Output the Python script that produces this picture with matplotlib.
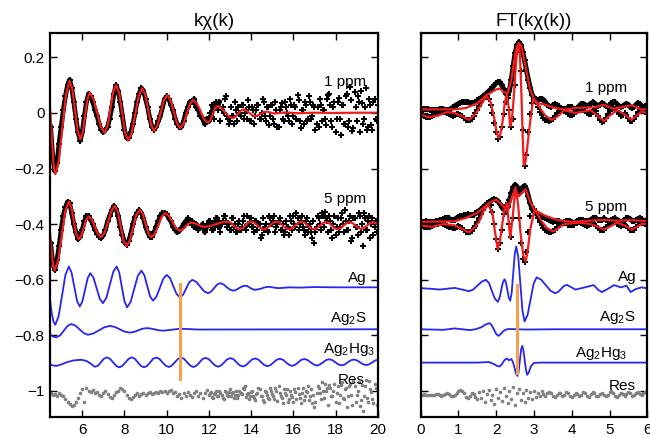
import numpy as np
import matplotlib
matplotlib.use("Agg")
import matplotlib.pyplot as plt

plt.rcParams["font.family"] = ["Liberation Sans", "DejaVu Sans"]
plt.rcParams["mathtext.default"] = "regular"
plt.rcParams["axes.unicode_minus"] = True

# ===== k-space (left panel) =====
K = np.round(np.arange(4.5, 20.001, 0.1), 1)          # data grid, 156 points
K_HI = np.round(np.arange(12.05, 19.96, 0.1), 2)      # extra samples in the noisy tail, 80 points
K_DENSE_MAX = 12.5                                   # below this the points overlap into a band

DATA_1PPM = [
    -0.05, -0.16, -0.21, -0.18, -0.11, -0.05, 0.01, 0.06, 0.10, 0.12,
    0.09, 0.04, -0.02, -0.07, -0.10, -0.07, -0.01, 0.04, 0.07, 0.06,
    0.04, 0.01, -0.01, -0.04, -0.06, -0.07, -0.06, -0.05, -0.02, 0.02,
    0.07, 0.10, 0.08, 0.04, -0.01, -0.06, -0.09, -0.09, -0.07, -0.04,
    0.00, 0.04, 0.07, 0.09, 0.08, 0.05, 0.02, -0.02, -0.05, -0.06,
    -0.05, -0.03, -0.01, 0.02, 0.05, 0.06, 0.05, 0.03, 0.01, -0.02,
    -0.04, -0.05, -0.05, -0.03, 0.00, 0.02, 0.04, 0.04, 0.05, 0.02,
    0.01, -0.01, -0.02, -0.04, -0.02, -0.03, -0.01, 0.02, 0.03, 0.02,
    0.04, 0.01, 0.00, 0.06, -0.02, -0.03, -0.01, -0.04, 0.01, 0.02,
    -0.01, 0.03, 0.00, -0.02, 0.02, -0.03, 0.01, -0.01, 0.03, -0.02,
    0.00, 0.04, -0.03, 0.02, -0.01, 0.03, -0.04, 0.01, -0.05, 0.02,
    -0.02, 0.04, 0.00, -0.03, 0.03, -0.01, 0.02, 0.065, -0.03, 0.01,
    -0.04, 0.03, -0.02, 0.04, -0.01, 0.02, -0.04, -0.05, 0.03, 0.01,
    -0.02, 0.05, 0.07, -0.03, 0.02, -0.07, 0.04, -0.02, 0.03, -0.04,
    0.06, -0.05, 0.095, -0.065, 0.075, -0.03, 0.04, 0.08, -0.04, 0.02,
    -0.06, 0.05, -0.045, 0.04, -0.02, 0.03,
]
DATA_1PPM_HI = [
    0.00, 0.03, -0.02, 0.04, 0.01, -0.03, 0.02, 0.05, -0.01, -0.04,
    0.02, -0.01, 0.04, -0.03, 0.00, 0.03, -0.02, 0.01, 0.045, -0.03,
    0.02, -0.04, 0.01, 0.03, -0.02, 0.05, -0.01, 0.02, -0.045, 0.03,
    -0.02, 0.04, -0.05, 0.01, 0.035, -0.03, 0.02, -0.01, 0.05, -0.04,
    0.03, -0.02, 0.045, -0.055, 0.01, 0.04, -0.03, 0.06, -0.02, 0.03,
    -0.06, 0.02, 0.05, -0.03, 0.01, -0.045, 0.065, 0.03, -0.05, 0.04,
    -0.02, 0.055, -0.08, 0.03, -0.04, 0.07, -0.03, 0.045, -0.055, 0.02,
    0.06, -0.07, 0.035, -0.02, 0.09, -0.05, 0.03, -0.06, 0.05, -0.03,
]
DATA_5PPM = [
    -0.47, -0.54, -0.565, -0.53, -0.48, -0.42, -0.37, -0.34, -0.32, -0.325,
    -0.36, -0.40, -0.43, -0.455, -0.445, -0.42, -0.39, -0.37, -0.37, -0.385,
    -0.40, -0.42, -0.435, -0.445, -0.45, -0.44, -0.42, -0.39, -0.37, -0.35,
    -0.335, -0.345, -0.37, -0.41, -0.44, -0.465, -0.475, -0.46, -0.435, -0.40,
    -0.375, -0.36, -0.35, -0.36, -0.38, -0.41, -0.43, -0.445, -0.445, -0.43,
    -0.41, -0.39, -0.37, -0.36, -0.36, -0.365, -0.38, -0.39, -0.41, -0.42,
    -0.43, -0.425, -0.415, -0.40, -0.39, -0.38, -0.395, -0.39, -0.41, -0.40,
    -0.42, -0.41, -0.40, -0.43, -0.41, -0.39, -0.40, -0.42, -0.39, -0.38,
    -0.41, -0.40, -0.37, -0.39, -0.40, -0.42, -0.38, -0.41, -0.43, -0.40,
    -0.42, -0.39, -0.41, -0.37, -0.40, -0.38, -0.41, -0.39, -0.42, -0.40,
    -0.44, -0.42, -0.40, -0.43, -0.38, -0.40, -0.37, -0.41, -0.39, -0.42,
    -0.40, -0.43, -0.41, -0.44, -0.39, -0.37, -0.41, -0.38, -0.40, -0.37,
    -0.42, -0.39, -0.43, -0.40, -0.45, -0.47, -0.41, -0.38, -0.42, -0.37,
    -0.355, -0.39, -0.37, -0.42, -0.40, -0.44, -0.38, -0.41, -0.36, -0.43,
    -0.39, -0.42, -0.37, -0.45, -0.38, -0.41, -0.36, -0.43, -0.48, -0.38,
    -0.42, -0.37, -0.40, -0.44, -0.39, -0.41,
]
DATA_5PPM_HI = [
    -0.39, -0.42, -0.40, -0.38, -0.41, -0.43, -0.39, -0.37, -0.41, -0.40,
    -0.42, -0.38, -0.40, -0.43, -0.39, -0.41, -0.37, -0.42, -0.40, -0.38,
    -0.41, -0.43, -0.39, -0.40, -0.45, -0.38, -0.41, -0.42, -0.37, -0.40,
    -0.39, -0.43, -0.40, -0.38, -0.42, -0.44, -0.39, -0.41, -0.37, -0.42,
    -0.40, -0.36, -0.42, -0.39, -0.41, -0.44, -0.38, -0.41, -0.43, -0.39,
    -0.43, -0.37, -0.40, -0.36, -0.41, -0.38, -0.43, -0.39, -0.45, -0.37,
    -0.41, -0.43, -0.38, -0.40, -0.35, -0.42, -0.39, -0.46, -0.38, -0.41,
    -0.44, -0.37, -0.40, -0.36, -0.42, -0.39, -0.45, -0.38, -0.41, -0.43,
]
RES_K = [
    -1.010, -1.015, -1.012, -1.018, -1.010, -1.015, -1.020, -1.030, -1.040, -1.048,
    -1.055, -1.052, -1.040, -1.025, -1.010, -0.995, -1.040, -0.990, -1.000, -1.005,
    -0.998, -1.010, -1.005, -1.015, -1.020, -1.010, -1.000, -1.012, -1.022, -1.025,
    -1.015, -1.005, -1.000, -0.992, -0.995, -1.002, -1.015, -1.025, -1.030, -1.022,
    -1.015, -1.010, -1.018, -1.012, -1.008, -1.015, -1.010, -1.005, -1.012, -1.008,
    -1.004, -1.010, -1.002, -1.006, -1.000, -1.008, -1.003, -0.998, -1.010, -1.005,
    -1.020, -1.012, -1.025, -1.008, -1.018, -1.005, -1.015, -1.022, -1.010, -1.000,
    -1.018, -1.008, -1.025, -1.010, -0.998, -1.015, -1.005, -1.028, -1.010, -1.020,
    -1.000, -1.015, -1.030, -1.005, -1.018, -0.995, -1.010, -1.025, -1.000, -1.015,
    -1.008, -0.990, -0.985, -1.012, -1.030, -1.005, -1.020, -1.035, -1.010, -0.995,
    -1.018, -1.040, -1.005, -1.025, -0.990, -1.012, -1.030, -1.000, -0.985, -1.020,
    -1.045, -1.010, -0.995, -1.030, -1.015, -1.040, -1.005, -0.990, -1.025, -1.010,
    -1.035, -1.000, -0.985, -1.020, -1.045, -1.060, -1.010, -0.990, -1.030, -1.000,
    -0.975, -0.990, -0.980, -1.020, -1.000, -1.040, -0.985, -1.015, -0.970, -1.030,
    -0.990, -1.020, -0.975, -1.050, -0.985, -1.015, -0.970, -1.035, -1.075, -0.985,
    -1.025, -0.965, -1.005, -1.045, -0.990, -1.015,
]
RES_K_HI = [
    -1.008, -1.022, -1.012, -1.002, -1.018, -1.010, -1.025, -1.000, -1.015, -1.006,
    -1.020, -1.004, -1.015, -1.028, -1.000, -1.012, -0.995, -1.022, -1.008, -1.018,
    -1.000, -1.028, -1.012, -0.992, -1.020, -1.035, -1.002, -1.015, -1.030, -1.000,
    -1.020, -0.990, -1.038, -1.010, -1.025, -0.995, -1.015, -1.040, -1.002, -1.022,
    -0.995, -1.030, -1.012, -1.045, -0.990, -1.020, -1.005, -1.035, -0.995, -1.015,
    -1.040, -0.985, -1.010, -0.970, -1.025, -1.000, -1.050, -0.990, -1.020, -0.975,
    -1.010, -1.045, -0.980, -1.025, -0.995, -1.060, -0.985, -1.015, -0.965, -1.040,
    -1.000, -1.055, -0.980, -1.020, -0.960, -1.040, -0.995, -1.030, -0.975, -1.050,
]

# fits and components
FIT1_K = [4.47, 4.55, 4.63, 4.67, 4.72, 4.78, 4.89, 5.06, 5.23, 5.40, 5.53, 5.655, 5.78,
          5.91, 6.02, 6.13, 6.24, 6.35, 6.53, 6.705, 6.88, 7.06, 7.20, 7.335, 7.47, 7.61,
          7.75, 7.89, 8.03, 8.17, 8.34, 8.505, 8.67, 8.84, 8.98, 9.12, 9.26, 9.40, 9.56,
          9.715, 9.87, 10.03, 10.18, 10.335, 10.49, 10.64, 10.79, 10.945, 11.10, 11.25,
          11.43, 11.605, 11.78, 11.96, 12.07, 12.18, 12.29, 12.40, 12.58, 12.765, 12.95,
          13.13, 13.255, 13.38, 13.505, 13.63, 13.77, 13.905, 14.04, 14.18, 14.32, 14.46,
          14.60, 14.74, 15.10, 15.60, 16.20, 17.00, 18.00, 19.00, 20.00]
FIT1_Y = [0.02, -0.08, -0.175, -0.205, -0.220, -0.207, -0.171, -0.052, 0.067, 0.116, 0.085,
          0.0105, -0.064, -0.095, -0.070, -0.011, 0.048, 0.073, 0.052, 0.001, -0.050,
          -0.071, -0.046, 0.015, 0.076, 0.101, 0.072, 0.0, -0.071, -0.100, -0.072, -0.006,
          0.061, 0.089, 0.067, 0.013, -0.042, -0.064, -0.045, 0.0, 0.046, 0.065, 0.047,
          0.005, -0.037, -0.055, -0.040, -0.004, 0.032, 0.047, 0.035, 0.006, -0.023,
          -0.035, -0.026, -0.005, 0.016, 0.025, 0.019, 0.003, -0.013, -0.019, -0.014,
          -0.003, 0.008, 0.013, 0.009, 0.001, -0.007, -0.011, -0.009, -0.003, 0.003,
          0.005, -0.002, 0.002, -0.001, 0.001, 0.0, 0.001, 0.001]

FIT5_K = [4.47, 4.55, 4.62, 4.69, 4.8575, 5.025, 5.19, 5.36, 5.48, 5.595, 5.71, 5.83, 5.95,
          6.065, 6.18, 6.30, 6.45, 6.60, 6.75, 6.90, 7.06, 7.22, 7.38, 7.54, 7.68, 7.815,
          7.95, 8.09, 8.25, 8.405, 8.56, 8.72, 8.86, 8.995, 9.13, 9.27, 9.435, 9.60, 9.765,
          9.93, 10.10, 10.275, 10.45, 10.62, 10.76, 10.895, 11.03, 11.17, 11.33, 11.485,
          11.64, 11.80, 12.08, 12.35, 12.62, 12.90, 13.04, 13.175, 13.31, 13.45, 13.59,
          13.725, 13.86, 14.00, 14.15, 14.30, 14.45, 14.60, 14.75, 14.895, 15.04, 15.19,
          15.34, 15.495, 15.65, 15.80, 15.945, 16.09, 16.235, 16.38, 16.53, 16.675, 16.82,
          16.97, 17.12, 17.265, 17.41, 17.56, 17.695, 17.83, 17.965, 18.10, 18.24, 18.385,
          18.53, 18.67, 18.80, 18.935, 19.07, 19.20, 19.345, 19.49, 19.635, 19.78, 19.89,
          20.00]
FIT5_Y = [-0.43, -0.50, -0.55, -0.567, -0.531, -0.443, -0.355, -0.319, -0.339, -0.387,
          -0.435, -0.455, -0.443, -0.414, -0.385, -0.373, -0.384, -0.411, -0.437, -0.448,
          -0.431, -0.392, -0.352, -0.335, -0.356, -0.407, -0.458, -0.479, -0.460, -0.414,
          -0.368, -0.349, -0.363, -0.399, -0.433, -0.448, -0.435, -0.405, -0.374, -0.361,
          -0.370, -0.393, -0.415, -0.424, -0.420, -0.410, -0.399, -0.395, -0.397, -0.4025,
          -0.408, -0.41, -0.407, -0.40, -0.394, -0.391, -0.395, -0.405, -0.415, -0.419,
          -0.415, -0.405, -0.395, -0.391, -0.395, -0.405, -0.415, -0.419, -0.415, -0.405,
          -0.395, -0.391, -0.395, -0.405, -0.415, -0.419, -0.415, -0.405, -0.395, -0.391,
          -0.395, -0.405, -0.415, -0.419, -0.415, -0.405, -0.396, -0.393, -0.396, -0.4055,
          -0.415, -0.418, -0.415, -0.4055, -0.396, -0.393, -0.396, -0.405, -0.414, -0.417,
          -0.414, -0.4055, -0.397, -0.394, -0.396, -0.40]

AG_K = [4.47, 4.55, 4.63, 4.72, 4.88, 5.04, 5.20, 5.36, 5.49, 5.62, 5.75, 5.88, 6.005,
        6.13, 6.255, 6.38, 6.53, 6.68, 6.83, 6.98, 7.14, 7.305, 7.47, 7.63, 7.75, 7.875,
        8.00, 8.12, 8.29, 8.46, 8.63, 8.80, 8.94, 9.075, 9.21, 9.35, 9.51, 9.675, 9.84,
        10.00, 10.16, 10.315, 10.47, 10.63, 10.775, 10.92, 11.065, 11.21, 11.40, 11.585,
        11.77, 11.96, 12.10, 12.245, 12.39, 12.53, 12.685, 12.84, 12.995, 13.15, 13.29,
        13.43, 13.57, 13.71, 13.83, 13.955, 14.08, 14.20, 14.35, 14.50, 14.65, 14.80,
        14.93, 15.05, 15.18, 15.30, 15.80, 16.30, 17.00, 18.00, 19.00, 20.00]
AG_Y = [-0.67, -0.72, -0.750, -0.763, -0.732, -0.658, -0.584, -0.553, -0.574, -0.625,
        -0.676, -0.697, -0.679, -0.637, -0.595, -0.577, -0.593, -0.631, -0.669, -0.685,
        -0.666, -0.619, -0.572, -0.553, -0.574, -0.627, -0.678, -0.700, -0.681, -0.634,
        -0.587, -0.568, -0.584, -0.622, -0.660, -0.676, -0.662, -0.630, -0.597, -0.583,
        -0.595, -0.624, -0.652, -0.664, -0.655, -0.633, -0.610, -0.601, -0.608, -0.625,
        -0.642, -0.649, -0.644, -0.631, -0.618, -0.613, -0.617, -0.627, -0.636, -0.640,
        -0.637, -0.631, -0.625, -0.622, -0.624, -0.630, -0.635, -0.637, -0.635, -0.632,
        -0.628, -0.626, -0.627, -0.6285, -0.630, -0.631, -0.628, -0.629, -0.627, -0.628,
        -0.628, -0.628]

AG2S_K = [4.47, 4.60, 4.77, 4.95, 5.125, 5.30, 5.48, 5.68, 5.875, 6.07, 6.27, 6.53, 6.785,
          7.04, 7.30, 7.54, 7.775, 8.01, 8.25, 8.45, 8.645, 8.84, 9.04, 9.24, 9.435, 9.63,
          9.83, 10.04, 10.255, 10.47, 10.68, 11.50, 20.00]
AG2S_Y = [-0.797, -0.805, -0.808, -0.801, -0.784, -0.767, -0.760, -0.766, -0.7795, -0.793,
          -0.799, -0.794, -0.783, -0.772, -0.767, -0.7705, -0.779, -0.7875, -0.791,
          -0.7887, -0.783, -0.7773, -0.775, -0.7763, -0.7795, -0.7827, -0.784, -0.7825,
          -0.7805, -0.7785, -0.777, -0.780, -0.779]

AG2HG3_K = [4.47, 4.60, 4.77, 5.00, 5.30, 5.60, 5.95, 6.20, 6.40, 6.59, 6.735, 6.88, 7.025,
            7.17, 7.32, 7.46, 7.61, 7.76, 7.90, 8.05, 8.19,
            8.34, 8.49, 8.63, 8.78, 8.93, 9.07, 9.22, 9.36,
            9.51, 9.66, 9.80, 9.95, 10.10, 10.24, 10.39, 10.53,
            10.68, 10.83, 10.97, 11.12, 11.27, 11.41, 11.56, 11.70,
            11.85, 12.00, 12.14, 12.29, 12.44, 12.58, 12.73, 12.87,
            13.02, 13.17, 13.31, 13.46, 13.61, 13.75, 13.90, 14.04,
            14.19, 14.34, 14.48, 14.63, 14.78, 14.92, 15.07, 15.21,
            15.36, 15.51, 15.65, 15.80, 15.95, 16.09, 16.24, 16.38,
            16.53, 16.68, 16.82, 16.97, 17.12, 17.26, 17.41, 17.55,
            17.70, 17.85, 17.99, 18.14, 18.29, 18.43, 18.58, 18.72,
            18.87, 19.02, 19.16, 19.31, 19.46, 19.60, 19.75, 19.89, 20.00]
AG2HG3_Y = [-0.905, -0.909, -0.911, -0.906, -0.897, -0.891, -0.889, -0.893, -0.903, -0.914,
            -0.911, -0.898, -0.885, -0.880, -0.886, -0.898, -0.911, -0.916, -0.911,
            -0.898, -0.886,
            -0.880, -0.885, -0.898, -0.911, -0.916, -0.911, -0.898, -0.885,
            -0.881, -0.886, -0.898, -0.910, -0.915, -0.910, -0.898, -0.886,
            -0.881, -0.886, -0.898, -0.910, -0.915, -0.910, -0.898, -0.886,
            -0.882, -0.887, -0.898, -0.909, -0.914, -0.909, -0.898, -0.887,
            -0.883, -0.887, -0.898, -0.909, -0.913, -0.909, -0.898, -0.888,
            -0.884, -0.888, -0.898, -0.908, -0.912, -0.908, -0.898, -0.889,
            -0.885, -0.889, -0.898, -0.907, -0.911, -0.907, -0.898, -0.889,
            -0.886, -0.890, -0.898, -0.906, -0.910, -0.906, -0.898, -0.890,
            -0.887, -0.890, -0.898, -0.906, -0.909, -0.906, -0.898, -0.891,
            -0.888, -0.891, -0.898, -0.905, -0.908, -0.905, -0.898, -0.891, -0.889]

EDGE_K = 10.63
EDGE_K_Y = [-0.615, -0.959]

# ===== R-space (right panel) =====
R = np.round(np.arange(0.0, 6.001, 0.05), 2)         # data grid, 121 points

MAG_1PPM = [
    0.012, 0.013, 0.014, 0.015, 0.014, 0.012, 0.010, 0.009, 0.010, 0.012,
    0.014, 0.015, 0.014, 0.012, 0.010, 0.012, 0.016, 0.020, 0.025, 0.030,
    0.033, 0.037, 0.040, 0.041, 0.040, 0.038, 0.036, 0.035, 0.037, 0.040,
    0.045, 0.050, 0.055, 0.060, 0.066, 0.072, 0.078, 0.085, 0.092, 0.100,
    0.107, 0.112, 0.110, 0.100, 0.085, 0.070, 0.065, 0.080, 0.120, 0.170,
    0.215, 0.245, 0.255, 0.245, 0.220, 0.190, 0.155, 0.120, 0.090, 0.065,
    0.055, 0.050, 0.048, 0.050, 0.052, 0.048, 0.040, 0.030, 0.024, 0.022,
    0.028, 0.032, 0.030, 0.024, 0.018, 0.015, 0.014, 0.016, 0.020, 0.022,
    0.020, 0.016, 0.014, 0.018, 0.026, 0.032, 0.034, 0.030, 0.026, 0.028,
    0.034, 0.038, 0.036, 0.030, 0.026, 0.030, 0.036, 0.032, 0.025, 0.022,
    0.028, 0.036, 0.040, 0.038, 0.032, 0.026, 0.022, 0.024, 0.030, 0.034,
    0.030, 0.022, 0.018, 0.022, 0.030, 0.036, 0.034, 0.026, 0.020, 0.024,
    0.030,
]
RE_1PPM = [
    -0.005, -0.008, -0.012, -0.015, -0.016, -0.015, -0.012, -0.008, -0.004, 0.000,
    0.003, 0.005, 0.005, 0.003, 0.000, -0.004, -0.008, -0.010, -0.008, -0.004,
    -0.002, -0.006, -0.012, -0.018, -0.024, -0.027, -0.026, -0.020, -0.010, 0.000,
    0.012, 0.025, 0.038, 0.050, 0.058, 0.060, 0.052, 0.030, 0.000, -0.035,
    -0.070, -0.092, -0.085, -0.050, -0.005, 0.040, 0.055, 0.010, -0.050, -0.020,
    0.100, 0.220, 0.250, 0.150, -0.060, -0.190, -0.150, -0.070, -0.005, 0.035,
    0.050, 0.040, 0.020, 0.005, -0.008, -0.018, -0.024, -0.027, -0.028, -0.026,
    -0.020, -0.010, 0.000, 0.008, 0.012, 0.012, 0.008, 0.002, -0.004, -0.008,
    -0.008, -0.004, 0.002, 0.008, 0.012, 0.014, 0.012, 0.006, 0.000, -0.004,
    -0.002, 0.006, 0.012, 0.006, -0.010, -0.025, -0.033, -0.030, -0.018, -0.004,
    0.008, 0.016, 0.018, 0.014, 0.006, -0.004, -0.010, -0.008, 0.000, -0.006,
    -0.018, -0.028, -0.030, -0.022, -0.010, 0.002, 0.010, 0.012, 0.008, 0.004,
    0.002,
]
MAG_5PPM = [
    -0.393, -0.392, -0.391, -0.390, -0.391, -0.392, -0.393, -0.392, -0.390, -0.388,
    -0.386, -0.384, -0.382, -0.380, -0.378, -0.380, -0.384, -0.386, -0.384, -0.378,
    -0.375, -0.372, -0.370, -0.368, -0.366, -0.365, -0.366, -0.368, -0.366, -0.362,
    -0.358, -0.352, -0.346, -0.340, -0.334, -0.328, -0.322, -0.317, -0.313, -0.311,
    -0.312, -0.318, -0.328, -0.340, -0.348, -0.350, -0.340, -0.315, -0.290, -0.268,
    -0.258, -0.265, -0.285, -0.285, -0.268, -0.262, -0.275, -0.300, -0.325, -0.345,
    -0.355, -0.362, -0.368, -0.372, -0.374, -0.376, -0.378, -0.382, -0.386, -0.390,
    -0.392, -0.390, -0.388, -0.390, -0.394, -0.396, -0.394, -0.390, -0.388, -0.390,
    -0.394, -0.396, -0.393, -0.389, -0.386, -0.384, -0.386, -0.389, -0.390, -0.388,
    -0.384, -0.380, -0.378, -0.380, -0.384, -0.387, -0.384, -0.380, -0.384, -0.388,
    -0.390, -0.386, -0.382, -0.380, -0.384, -0.389, -0.392, -0.390, -0.385, -0.380,
    -0.378, -0.382, -0.388, -0.390, -0.386, -0.381, -0.378, -0.382, -0.388, -0.388,
    -0.384,
]
RE_5PPM = [
    -0.405, -0.408, -0.410, -0.412, -0.412, -0.410, -0.407, -0.404, -0.401, -0.399,
    -0.398, -0.398, -0.400, -0.403, -0.406, -0.409, -0.412, -0.414, -0.413, -0.410,
    -0.408, -0.410, -0.415, -0.421, -0.427, -0.430, -0.429, -0.424, -0.416, -0.406,
    -0.394, -0.380, -0.364, -0.348, -0.335, -0.325, -0.322, -0.330, -0.355, -0.400,
    -0.455, -0.490, -0.470, -0.420, -0.365, -0.330, -0.335, -0.400, -0.445, -0.380,
    -0.275, -0.285, -0.380, -0.470, -0.525, -0.535, -0.500, -0.430, -0.370, -0.345,
    -0.345, -0.360, -0.378, -0.393, -0.405, -0.414, -0.420, -0.424, -0.427, -0.428,
    -0.426, -0.420, -0.412, -0.404, -0.398, -0.395, -0.395, -0.398, -0.402, -0.405,
    -0.405, -0.402, -0.398, -0.395, -0.394, -0.396, -0.400, -0.404, -0.406, -0.404,
    -0.400, -0.398, -0.400, -0.406, -0.414, -0.420, -0.423, -0.420, -0.412, -0.403,
    -0.396, -0.392, -0.391, -0.394, -0.399, -0.404, -0.406, -0.404, -0.402, -0.406,
    -0.414, -0.420, -0.423, -0.420, -0.412, -0.404, -0.398, -0.396, -0.398, -0.401,
    -0.402,
]
RES_R = [
    -1.015, -1.014, -1.013, -1.014, -1.016, -1.017, -1.016, -1.014, -1.012, -1.013,
    -1.016, -1.018, -1.016, -1.012, -1.010, -1.013, -1.018, -1.020, -1.016, -1.008,
    -1.000, -0.996, -1.000, -1.010, -1.022, -1.026, -1.018, -1.008, -1.012, -1.024,
    -1.030, -1.005, -1.028, -1.000, -1.040, -1.012, -0.998, -1.035, -1.015, -1.048,
    -0.995, -1.025, -1.005, -1.038, -0.990, -1.020, -1.045, -1.000, -1.030, -0.988,
    -1.050, -1.010, -0.995, -1.035, -1.008, -1.042, -0.998, -1.025, -1.005, -1.030,
    -1.000, -1.022, -1.010, -1.020, -1.002, -1.012, -1.018, -1.010, -1.004, -1.010,
    -1.018, -1.024, -1.016, -1.008, -1.010, -1.018, -1.014, -1.006, -1.010, -1.020,
    -1.022, -1.014, -1.008, -1.012, -1.018, -1.014, -1.006, -1.010, -1.020, -1.022,
    -1.012, -1.004, -1.008, -1.018, -1.020, -1.012, -1.008, -1.014, -1.020, -1.014,
    -1.004, -1.000, -1.008, -1.018, -1.022, -1.014, -1.008, -1.012, -1.018, -1.012,
    -1.006, -1.010, -1.020, -1.016, -1.008, -1.006, -1.012, -1.016, -1.010, -1.006,
    -1.010,
]

FITMAG1_R = [0.0, 0.5, 0.9, 1.2, 1.5, 1.75, 2.0, 2.1, 2.2, 2.3, 2.4, 2.5, 2.55, 2.6, 2.65,
             2.7, 2.8, 2.9, 3.0, 3.1, 3.3, 3.5, 3.8, 4.1, 4.4, 4.6, 4.85, 5.1, 5.3, 5.6,
             5.85, 6.0]
FITMAG1_Y = [0.013, 0.013, 0.013, 0.018, 0.035, 0.065, 0.085, 0.088, 0.075, 0.07, 0.12,
             0.21, 0.24, 0.252, 0.245, 0.22, 0.15, 0.085, 0.05, 0.035, 0.03, 0.02, 0.012,
             0.018, 0.02, 0.02, 0.03, 0.015, 0.02, 0.028, 0.012, 0.015]
FITRE1_R = [0.0, 0.2, 0.45, 0.7, 0.9, 1.1, 1.28, 1.45, 1.6, 1.75, 1.85, 1.95, 2.02, 2.07,
            2.12, 2.17, 2.23, 2.28, 2.33, 2.37, 2.41, 2.45, 2.52, 2.56, 2.6, 2.63, 2.66,
            2.70, 2.73, 2.77, 2.8, 2.9, 2.98, 3.15, 3.3, 3.47, 3.65, 3.8, 4.1, 4.5, 4.7,
            4.86, 5.0, 5.2, 5.4, 5.58, 5.85, 6.0]
FITRE1_Y = [-0.005, -0.015, -0.01, 0.003, 0.0, -0.012, -0.025, -0.005, 0.03, 0.062, 0.04,
            -0.02, -0.075, -0.09, -0.07, -0.03, 0.04, 0.065, 0.02, -0.049, -0.03, 0.03,
            0.17, 0.235, 0.25, 0.20, 0.10, -0.08, -0.19, -0.18, -0.15, -0.03, 0.05, 0.02,
            -0.01, -0.025, -0.01, 0.01, 0.0, 0.01, -0.012, -0.03, -0.01, 0.01, -0.005,
            -0.025, 0.005, 0.0]
FITMAG5_R = [0.0, 0.9, 1.2, 1.5, 1.8, 2.0, 2.15, 2.3, 2.4, 2.49, 2.6, 2.7, 2.78, 2.9, 3.02,
             3.3, 3.6, 4.0, 4.5, 4.8, 5.2, 5.6, 6.0]
FITMAG5_Y = [-0.392, -0.39, -0.378, -0.36, -0.325, -0.312, -0.33, -0.355, -0.31, -0.275,
             -0.30, -0.285, -0.275, -0.32, -0.35, -0.37, -0.385, -0.392, -0.388, -0.385,
             -0.388, -0.386, -0.39]
FITRE5_R = [0.0, 0.3, 0.6, 0.9, 1.1, 1.28, 1.45, 1.55, 1.68, 1.78, 1.9, 1.97, 2.04, 2.1,
            2.15, 2.22, 2.28, 2.33, 2.37, 2.44, 2.51, 2.58, 2.65, 2.72, 2.78, 2.84, 2.9,
            3.02, 3.2, 3.35, 3.51, 3.65, 3.8, 4.2, 4.5, 4.7, 4.85, 5.0, 5.2, 5.4, 5.6,
            5.85, 6.0]
FITRE5_Y = [-0.405, -0.41, -0.40, -0.405, -0.418, -0.43, -0.41, -0.39, -0.35, -0.33, -0.36,
            -0.43, -0.491, -0.46, -0.41, -0.345, -0.325, -0.39, -0.451, -0.37, -0.268,
            -0.33, -0.44, -0.515, -0.535, -0.49, -0.42, -0.345, -0.39, -0.415, -0.427,
            -0.415, -0.40, -0.395, -0.40, -0.41, -0.42, -0.41, -0.395, -0.405, -0.42,
            -0.40, -0.40]

AG_R = [0.0, 0.25, 0.5, 0.7, 0.9, 1.1, 1.28, 1.39, 1.505, 1.62, 1.73, 1.81, 1.885, 1.96,
        2.04, 2.085, 2.13, 2.175, 2.22, 2.2575, 2.295, 2.3325, 2.37, 2.41, 2.45, 2.49,
        2.53, 2.585, 2.64, 2.695, 2.75, 2.83, 2.91, 2.99, 3.07, 3.19, 3.315, 3.44, 3.56,
        3.64, 3.715, 3.79, 3.87, 4.1, 4.35, 4.58, 4.7, 4.8, 4.95, 5.12, 5.3, 5.45, 5.56,
        5.7, 5.85, 6.0]
AG_RY = [-0.631, -0.633, -0.636, -0.633, -0.630, -0.636, -0.642, -0.636, -0.6215, -0.607,
         -0.601, -0.613, -0.6405, -0.668, -0.680, -0.668, -0.6395, -0.611, -0.599, -0.610,
         -0.6375, -0.665, -0.676, -0.647, -0.5785, -0.510, -0.481, -0.5205, -0.616,
         -0.7115, -0.751, -0.7277, -0.6715, -0.6153, -0.592, -0.6004, -0.6205, -0.6406,
         -0.649, -0.6446, -0.634, -0.6234, -0.619, -0.636, -0.628, -0.620, -0.637, -0.645,
         -0.634, -0.620, -0.628, -0.622, -0.645, -0.634, -0.628, -0.632]
AG2S_R = [0.0, 0.6, 0.9, 1.3, 1.45, 1.6, 1.72, 1.82, 1.88, 1.94, 2.0, 2.06, 2.12, 2.18,
          2.24, 2.32, 2.8, 3.5, 6.0]
AG2S_RY = [-0.779, -0.781, -0.776, -0.782, -0.779, -0.772, -0.762, -0.757, -0.764, -0.780,
           -0.796, -0.803, -0.796, -0.787, -0.781, -0.778, -0.780, -0.779, -0.779]
AG2HG3_R = [0.0, 1.5, 1.8, 1.95, 2.02, 2.09, 2.15, 2.22, 2.28, 2.34, 2.4, 2.44, 2.48, 2.52,
            2.56, 2.59, 2.625, 2.66, 2.69, 2.72, 2.755, 2.79, 2.82, 2.86, 2.92, 3.0, 3.2,
            6.0]
AG2HG3_RY = [-0.899, -0.899, -0.897, -0.905, -0.911, -0.913, -0.905, -0.890, -0.884,
             -0.891, -0.886, -0.896, -0.915, -0.937, -0.947, -0.935, -0.893, -0.851, -0.839,
             -0.855, -0.891, -0.927, -0.943, -0.935, -0.912, -0.900, -0.899, -0.899]

EDGE_R = 2.55
EDGE_R_Y = [-0.619, -0.937]

YTICKS = [0.2, 0, -0.2, -0.4, -0.6, -0.8, -1]
YTICK_LABELS = ["0.2", "0", "\u22120.2", "\u22120.4", "\u22120.6", "\u22120.8", "\u22121"]

RED = "#ee1c1c"
BLUE = "#2626f0"
ORANGE = "#f7a24a"
GRAY = "#808080"


def style(ax):
    for s in ax.spines.values():
        s.set_linewidth(1.6)
    ax.tick_params(direction="in", length=5, width=1, top=True, right=True, labelsize=11,
                   pad=4)


def main():
    fig = plt.figure(figsize=(6.5, 4.38), dpi=100)
    ax1 = fig.add_axes([0.0769, 0.0473, 0.5042, 0.8767])
    ax2 = fig.add_axes([0.6472, 0.0473, 0.3486, 0.8767], sharey=ax1)

    # ---- left: k chi(k)
    d1 = np.array(DATA_1PPM)
    d5 = np.array(DATA_5PPM)
    low = K <= K_DENSE_MAX
    mk = dict(ls="none", marker="P", ms=4.8, mew=0, color="black")
    for d, d_hi in ((d1, DATA_1PPM_HI), (d5, DATA_5PPM_HI)):
        ax1.plot(K[low], d[low], color="black", lw=3.4)
        ax1.plot(K, d, **mk)
        ax1.plot(K_HI, d_hi, **mk)
    ax1.plot(FIT1_K, FIT1_Y, color=RED, lw=1.6)
    ax1.plot(FIT5_K, FIT5_Y, color=RED, lw=1.6)
    ax1.plot(AG_K, AG_Y, color=BLUE, lw=1.3)
    ax1.plot(AG2S_K, AG2S_Y, color=BLUE, lw=1.3)
    ax1.plot(AG2HG3_K, AG2HG3_Y, color=BLUE, lw=1.3)
    ax1.plot(K, RES_K, ls="none", marker="o", ms=2.6, mew=0, color=GRAY)
    ax1.plot(K_HI, RES_K_HI, ls="none", marker="o", ms=2.6, mew=0, color=GRAY)
    ax1.plot([EDGE_K, EDGE_K], EDGE_K_Y, color=ORANGE, lw=2.2)

    lab = dict(ha="right", va="center", fontsize=11)
    ax1.text(19.45, 0.113, "1 ppm", **lab)
    ax1.text(19.45, -0.31, "5 ppm", **lab)
    ax1.text(19.45, -0.595, "Ag", **lab)
    ax1.text(19.45, -0.739, "Ag$_2$S", **lab)
    ax1.text(19.9, -0.851, "Ag$_2$Hg$_3$", **lab)
    ax1.text(19.4, -0.961, "Res", **lab)

    ax1.set_xlim(4.47, 20)
    ax1.set_ylim(-1.096, 0.287)
    ax1.set_xticks(np.arange(6, 21, 2))
    ax1.set_yticks(YTICKS)
    ax1.set_yticklabels(YTICK_LABELS)
    ax1.set_title("k\u03c7(k)", fontsize=13.5, pad=5)
    style(ax1)

    # ---- right: FT(k chi(k))
    ax2.plot(R, MAG_1PPM, color="black", lw=3.6)
    ax2.plot(R, MAG_5PPM, color="black", lw=3.6)
    for d in (MAG_1PPM, RE_1PPM, MAG_5PPM, RE_5PPM):
        ax2.plot(R, d, ls="none", marker="P", ms=4.2, mew=0, color="black")
    ax2.plot(FITMAG1_R, FITMAG1_Y, color=RED, lw=1.6)
    ax2.plot(FITRE1_R, FITRE1_Y, color=RED, lw=1.6)
    ax2.plot(FITMAG5_R, FITMAG5_Y, color=RED, lw=1.6)
    ax2.plot(FITRE5_R, FITRE5_Y, color=RED, lw=1.6)
    ax2.plot(AG_R, AG_RY, color=BLUE, lw=1.3)
    ax2.plot(AG2S_R, AG2S_RY, color=BLUE, lw=1.3)
    ax2.plot(AG2HG3_R, AG2HG3_RY, color=BLUE, lw=1.3)
    ax2.plot(R, RES_R, ls="none", marker="o", ms=2.6, mew=0, color=GRAY)
    ax2.plot([EDGE_R, EDGE_R], EDGE_R_Y, color=ORANGE, lw=2.2)

    ax2.text(5.47, 0.089, "1 ppm", **lab)
    ax2.text(5.47, -0.337, "5 ppm", **lab)
    ax2.text(5.72, -0.592, "Ag", **lab)
    ax2.text(5.69, -0.736, "Ag$_2$S", **lab)
    ax2.text(5.47, -0.865, "Ag$_2$Hg$_3$", **lab)
    ax2.text(5.69, -0.982, "Res", **lab)

    ax2.set_xlim(0, 6)
    ax2.set_xticks(np.arange(0, 7, 1))
    ax2.set_title("FT(k\u03c7(k))", fontsize=13.5, pad=5)
    style(ax2)
    ax2.tick_params(labelleft=False)

    fig.savefig("out.png", dpi=100)


if __name__ == "__main__":
    main()
